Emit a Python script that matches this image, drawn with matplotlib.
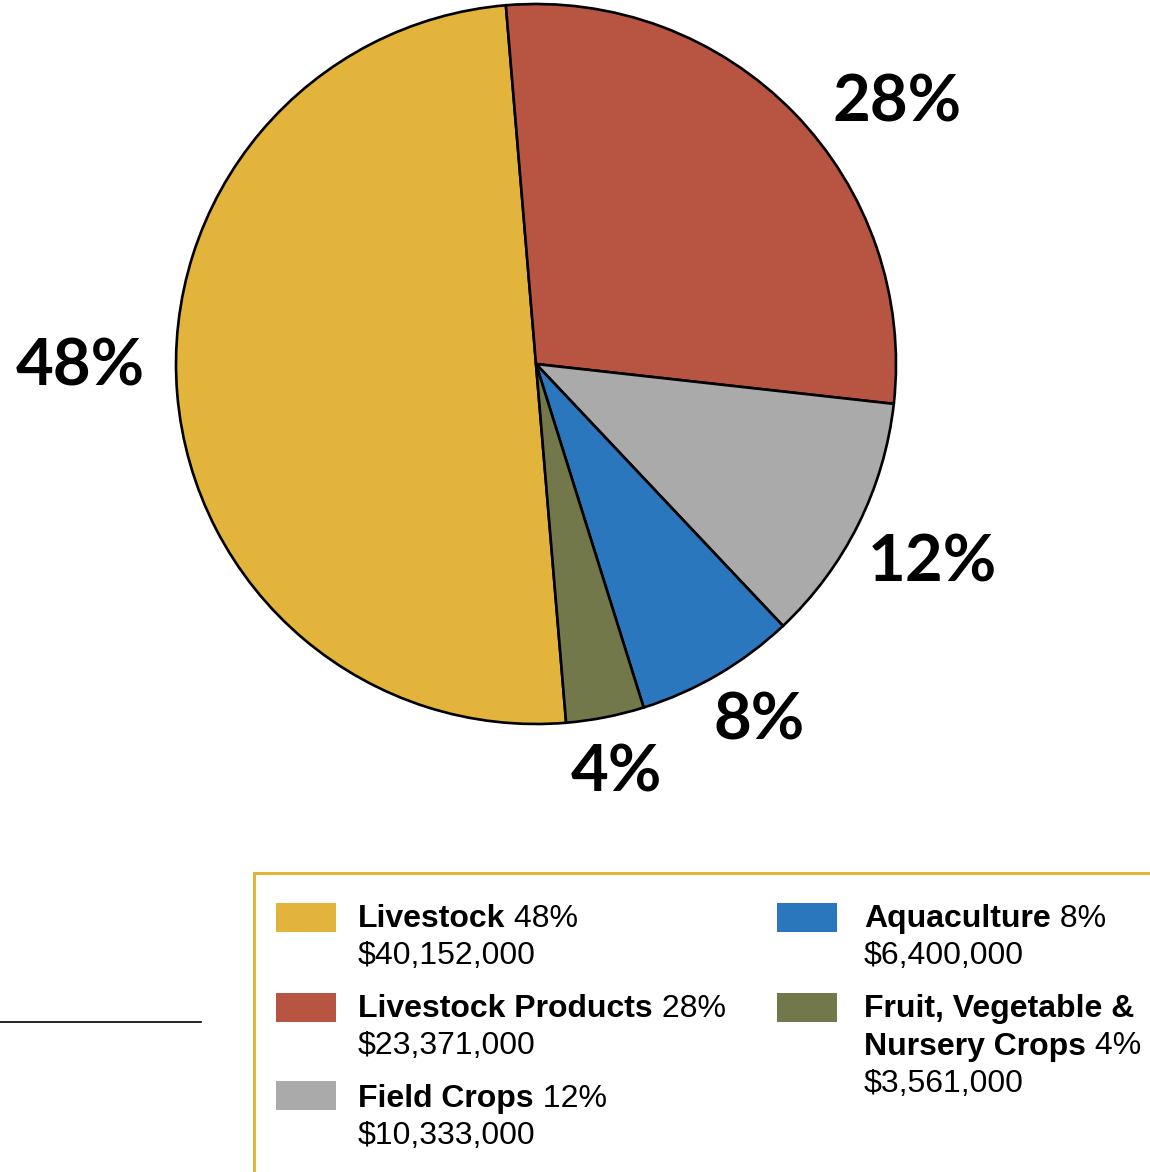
import matplotlib
matplotlib.use('Agg')
from matplotlib import pyplot as plt
from matplotlib.patches import Rectangle

# data
categories = ['Livestock', 'Livestock Products', 'Field Crops', 'Aquaculture',
              'Fruit, Vegetable &\nNursery Crops']
pct_labels = ['48%', '28%', '12%', '8%', '4%']
dollars = ['$40,152,000', '$23,371,000', '$10,333,000', '$6,400,000', '$3,561,000']
# slice sizes as drawn in the picture (degrees share)
pie_shares = [50.0, 28.1, 11.2, 7.2, 3.5]
colors = ['#E3B43B', '#B85542', '#AAAAAA', '#2A77BD', '#73784A']

W, H = 1150, 1172
fig = plt.figure(figsize=(W / 100, H / 100), dpi=100)
ax = fig.add_axes([0, 0, 1, 1])

def py(y):
    # pixel-from-top -> data y
    return H - y

# pie
wedges, _ = ax.pie(pie_shares, colors=colors, startangle=-85.2, counterclock=False,
                   center=(536, py(364)), radius=360, frame=True,
                   wedgeprops=dict(edgecolor='black', linewidth=1.9))
ax.set_xlim(0, W)
ax.set_ylim(0, H)
ax.set_aspect('equal')
ax.axis('off')

# big percentage labels
label_pos = [(80, 386), (897, 121), (932, 582), (759, 739), (616, 791)]
for txt, (x, y) in zip(pct_labels, label_pos):
    ax.text(x, py(y), txt, fontsize=47, fontweight='bold', family='Lato',
            ha='center', va='baseline', color='black')

# legend box
ax.add_patch(Rectangle((254, py(1180)), 960, 1180 - 873, fill=False,
                       edgecolor='#E3B43B', linewidth=2.2, clip_on=False))
ax.plot([0, 201], [py(1022), py(1022)], color='black', linewidth=1.2)

renderer = fig.canvas.get_renderer()
inv = ax.transData.inverted()
fs = 23
lg = 'Liberation Sans'

def rich_line(x, y, bold, normal):
    t = ax.text(x, py(y), bold, fontsize=fs, fontweight='bold', family=lg,
                ha='left', va='baseline')
    if normal:
        bb = t.get_window_extent(renderer)
        xe = inv.transform((bb.x1, bb.y0))[0]
        ax.text(xe, py(y), ' ' + normal, fontsize=fs, family=lg,
                ha='left', va='baseline')

entries = [(276, 358, 903, 927), (276, 358, 993, 1017), (276, 358, 1081, 1107),
           (777, 864, 903, 927), (777, 864, 993, 1017)]
step = 37.5
for i, (sx, tx, sy, base) in enumerate(entries):
    ax.add_patch(Rectangle((sx, py(sy + 29)), 60, 29, color=colors[i], linewidth=0))
    lines = categories[i].split('\n')
    for j, ln in enumerate(lines):
        rich_line(tx, base + j * step, ln, pct_labels[i] if j == len(lines) - 1 else None)
    ax.text(tx, py(base + len(lines) * step), dollars[i], fontsize=fs, family=lg,
            ha='left', va='baseline')

fig.savefig('out.png', dpi=100)
